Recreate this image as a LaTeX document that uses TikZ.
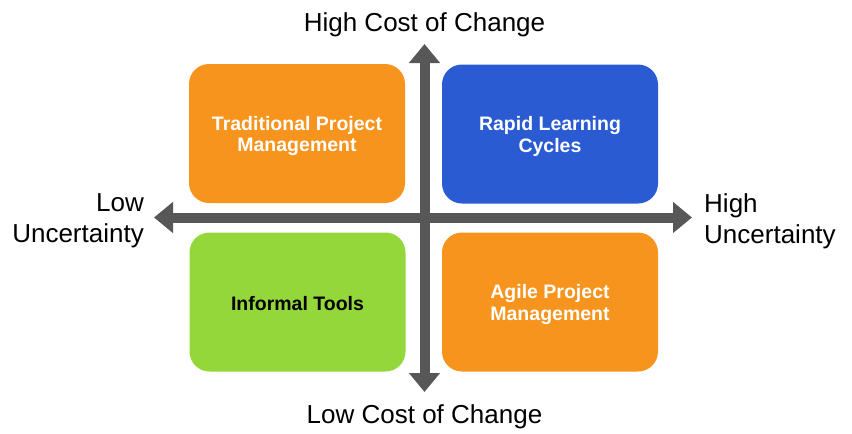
\documentclass[tikz,border=0pt]{standalone}
\usepackage{fontspec}
\setmainfont{Liberation Sans}
\usetikzlibrary{arrows.meta}
\definecolor{quadorange}{HTML}{F7941E}
\definecolor{quadblue}{HTML}{2B5BD3}
\definecolor{quadgreen}{HTML}{93D73B}
\definecolor{axisgrey}{HTML}{575757}

\begin{document}
\begin{tikzpicture}[x=1pt, y=-1pt,
	            quad/.style={
	            rounded corners=20pt,
	            minimum width=216pt,
	            minimum height=139pt,
	            inner sep=0pt
	            },
	            quadtext/.style={
	            align=center,
	            inner sep=0pt,
	            font=\fontsize{19.5}{21.5}\selectfont\bfseries,
	            text=white
	            },
	            axislabel/.style={
	            font=\fontsize{26}{31}\selectfont,
	            inner sep=0pt
	            },
	            axis/.style={
	            draw=axisgrey,
	            line width=10pt,
	            {Triangle[width=30pt,length=19pt]}-{Triangle[width=30pt,length=19pt]}
	            }]

	        \useasboundingbox (0,0) rectangle (852,434);

	        \node[quad, fill=quadorange] (trad) at (297,133.5) {};
	        \node[quad, fill=quadblue] (rapid) at (550,134) {};
	        \node[quad, fill=quadgreen] (informal) at (297.5,302) {};
	        \node[quad, fill=quadorange] (agile) at (550,302) {};

	        \node[quadtext] (tradtext) at ([yshift=-2.5pt]trad) {Traditional Project\\Management};
	        \node[quadtext] (rapidtext) at ([yshift=-2.5pt]rapid) {Rapid Learning\\Cycles};
	        \node[quadtext, text=black] (informaltext) at ([yshift=-1.5pt]informal) {Informal Tools};
	        \node[quadtext] (agiletext) at ([yshift=-2.5pt]agile) {Agile Project\\Management};

	        \coordinate (top) at (424.5,44);
	        \coordinate (bottom) at (424.5,392);
	        \coordinate (left) at (154,217.5);
	        \coordinate (right) at (692,217.5);

	        \draw[axis] (left) -- (right);
	        \draw[axis] (bottom) -- (top);

	        \node[axislabel] (highcost) at (424.5,24.5) {High Cost of Change};
	        \node[axislabel] (lowcost) at (424.5,417) {Low Cost of Change};
	        \node[axislabel, align=right, anchor=east] (lowunc) at (144,221) {Low\\Uncertainty};
	        \node[axislabel, align=left, anchor=west] (highunc) at (704,221) {High\\Uncertainty};

	    \end{tikzpicture}
\end{document}
